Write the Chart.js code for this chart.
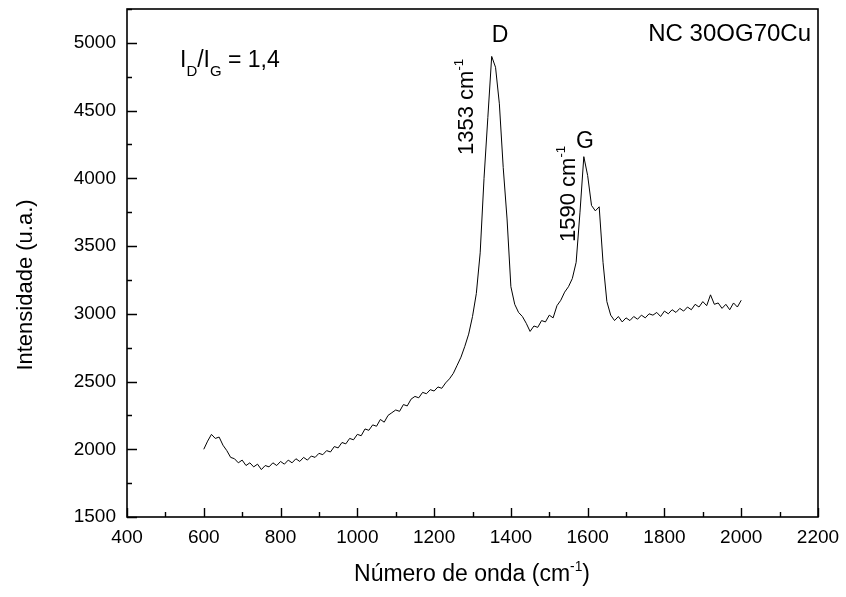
<!DOCTYPE html>
<html>
<head>
<meta charset="utf-8">
<script src="https://cdn.jsdelivr.net/npm/chart.js@4.4.0/dist/chart.umd.min.js"></script>
<style>
  html, body { margin: 0; padding: 0; background: #fff; }
  #wrap { width: 846px; height: 597px; }
</style>
</head>
<body>
<div id="wrap"><canvas id="raman" width="846" height="597"></canvas></div>
<script>
/* =========================================
   Data
   ========================================= */
const waveStart = 600;   // cm-1, first sample
const waveStep = 10;     // cm-1 between samples

const intensity = [
    2000, 2060, 2110, 2080, 2090, 2030, 1990, 1940, 1930, 1900,
    1920, 1880, 1900, 1870, 1890, 1850, 1880, 1870, 1900, 1880,
    1910, 1890, 1920, 1900, 1930, 1910, 1940, 1920, 1950, 1940,
    1970, 1960, 1990, 1980, 2020, 2010, 2050, 2040, 2080, 2070,
    2110, 2100, 2150, 2140, 2180, 2170, 2220, 2200, 2250, 2270,
    2290, 2280, 2330, 2320, 2370, 2390, 2380, 2420, 2410, 2440,
    2430, 2460, 2450, 2490, 2520, 2560, 2620, 2680, 2760, 2850,
    2980, 3150, 3450, 4000, 4450, 4900, 4820, 4550, 4080, 3700,
    3200, 3070, 3010, 2980, 2930, 2870, 2910, 2900, 2950, 2940,
    2990, 2970, 3060, 3100, 3160, 3200, 3260, 3380, 3750, 4160,
    4020, 3800, 3760, 3790, 3380, 3090, 2990, 2950, 2980, 2940,
    2970, 2950, 2980, 2960, 2990, 2970, 3000, 2990, 3010, 2980,
    3020, 3000, 3030, 3010, 3040, 3020, 3050, 3030, 3070, 3050,
    3090, 3060, 3140, 3070, 3080, 3040, 3070, 3030, 3080, 3050,
    3100
];
const wavenumbers = intensity.map((_, i) => waveStart + i * waveStep);

const xMajorTicks = [400, 600, 800, 1000, 1200, 1400, 1600, 1800, 2000, 2200];
const xMinorTicks = [500, 700, 900, 1100, 1300, 1500, 1700, 1900, 2100];
const yMajorTicks = [1500, 2000, 2500, 3000, 3500, 4000, 4500, 5000];
const yMinorTicks = [1750, 2250, 2750, 3250, 3750, 4250, 4750, 5250];

/* =========================================
   Rich text helper (sub/superscripts)
   parts: [text, sizeFactor, shiftEm]
   ========================================= */
const FONT = '"Liberation Sans", Arial, sans-serif';

function drawRich(ctx, parts, x, y, size, align, angle) {
    ctx.save();
    ctx.translate(x, y);
    if (angle) ctx.rotate(angle);
    ctx.fillStyle = '#000';
    ctx.textBaseline = 'alphabetic';
    ctx.textAlign = 'left';
    let total = 0;
    const widths = parts.map(p => {
        ctx.font = `${size * p[1]}px ${FONT}`;
        const w = ctx.measureText(p[0]).width;
        total += w;
        return w;
    });
    let cx = align === 'center' ? -total / 2 : align === 'right' ? -total : 0;
    parts.forEach((p, i) => {
        ctx.font = `${size * p[1]}px ${FONT}`;
        ctx.fillText(p[0], cx, p[2] * size);
        cx += widths[i];
    });
    ctx.restore();
}

/* =========================================
   Frame, inward ticks and labels
   ========================================= */
const framePlugin = {
    id: 'frame',
    afterDraw(chart) {
        const ctx = chart.ctx;
        const a = chart.chartArea;
        const xs = chart.scales.x, ys = chart.scales.y;

        ctx.save();
        ctx.strokeStyle = '#000';
        ctx.lineWidth = 1.6;
        ctx.strokeRect(a.left, a.top, a.right - a.left, a.bottom - a.top);

        ctx.lineWidth = 1.4;
        ctx.beginPath();
        const tickX = (vals, len) => vals.forEach(v => {
            const px = Math.round(xs.getPixelForValue(v)) + 0.5;
            ctx.moveTo(px, a.bottom);
            ctx.lineTo(px, a.bottom - len);
        });
        const tickY = (vals, len) => vals.forEach(v => {
            const py = Math.round(ys.getPixelForValue(v)) + 0.5;
            ctx.moveTo(a.left, py);
            ctx.lineTo(a.left + len, py);
        });
        tickX(xMajorTicks, 9); tickX(xMinorTicks, 5);
        tickY(yMajorTicks, 10); tickY(yMinorTicks, 5);
        ctx.stroke();
        ctx.restore();

        // axis titles
        drawRich(ctx, [['Número de onda (cm', 1, 0], ['-1', 0.6, -0.45], [')', 1, 0]], 472, 581, 23, 'center');
        drawRich(ctx, [['Intensidade (u.a.)', 1, 0]], 32, 285, 22, 'center', -Math.PI / 2);

        // annotations
        drawRich(ctx, [['D', 1, 0]], 500, 42, 23, 'center');
        drawRich(ctx, [['G', 1, 0]], 585, 148, 23, 'center');
        drawRich(ctx, [['1353 cm', 1, 0], ['-1', 0.6, -0.45]], 473, 155, 22, 'left', -Math.PI / 2);
        drawRich(ctx, [['1590 cm', 1, 0], ['-1', 0.6, -0.45]], 575, 242, 22, 'left', -Math.PI / 2);
        drawRich(ctx, [['NC 30OG70Cu', 1, 0]], 811, 41, 24, 'right');
        drawRich(ctx, [['I', 1, 0], ['D', 0.65, 0.38], ['/I', 1, 0], ['G', 0.65, 0.38], [' = 1,4', 1, 0]], 180, 67, 23, 'left');
    }
};

/* =========================================
   Chart
   ========================================= */
const tickFont = { family: FONT, size: 19 };

new Chart(document.getElementById('raman'), {
    type: 'scatter',
    data: {
        datasets: [{
            data: wavenumbers.map((w, i) => ({ x: w, y: intensity[i] })),
            showLine: true,
            borderColor: '#000',
            borderWidth: 1,
            pointRadius: 0,
            tension: 0
        }]
    },
    options: {
        responsive: false,
        animation: false,
        events: [],
        layout: { padding: { top: 9, right: 28, left: 0, bottom: 0 } },
        plugins: { legend: { display: false }, tooltip: { enabled: false } },
        scales: {
            x: {
                type: 'linear',
                min: 400, max: 2200,
                afterBuildTicks: s => { s.ticks = xMajorTicks.map(v => ({ value: v })); },
                ticks: { font: tickFont, color: '#000', padding: 9, maxRotation: 0, autoSkip: false,
                         callback: v => String(v) },
                grid: { display: false, drawTicks: false },
                border: { display: false },
                afterFit: s => { s.height = 80; s.paddingLeft = 0; s.paddingRight = 0; }
            },
            y: {
                min: 1500, max: 5250,
                afterBuildTicks: s => { s.ticks = yMajorTicks.map(v => ({ value: v })); },
                ticks: { font: tickFont, color: '#000', padding: 11, callback: v => String(v) },
                grid: { display: false, drawTicks: false },
                border: { display: false },
                afterFit: s => { s.width = 127; s.paddingTop = 0; s.paddingBottom = 0; }
            }
        }
    },
    plugins: [framePlugin]
});
</script>
</body>
</html>
